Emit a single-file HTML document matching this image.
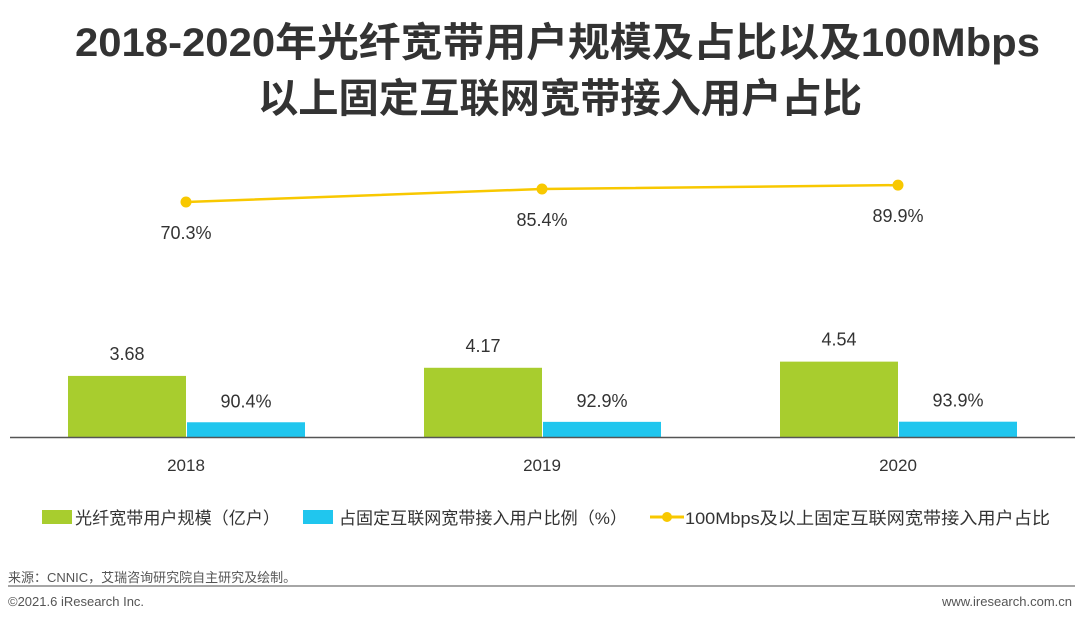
<!DOCTYPE html>
<html><head><meta charset="utf-8"><style>
body{margin:0;width:1080px;height:620px;background:#fff;overflow:hidden;font-family:"Liberation Sans","Noto Sans CJK SC",sans-serif}
</style></head><body>
<svg width="1080" height="620" font-family="Liberation Sans, Noto Sans CJK SC, sans-serif">
<text x="75" y="56" textLength="965" lengthAdjust="spacingAndGlyphs" font-size="40" font-weight="bold" fill="#333">2018-2020年光纤宽带用户规模及占比以及100Mbps</text>
<text x="258" y="112" textLength="604" lengthAdjust="spacingAndGlyphs" font-size="40" font-weight="bold" fill="#333">以上固定互联网宽带接入用户占比</text>
<g id="plot"></g>
<line x1="10" y1="437.5" x2="1075" y2="437.5" stroke="#555" stroke-width="1.5"/>
<g font-size="17" fill="#333">
<rect x="42" y="510" width="30" height="14" fill="#a8cd2e"/>
<text x="75" y="524" textLength="205" lengthAdjust="spacingAndGlyphs">光纤宽带用户规模（亿户）</text>
<rect x="303" y="510" width="30" height="14" fill="#20c6ee"/>
<text x="339" y="524" textLength="288" lengthAdjust="spacingAndGlyphs">占固定互联网宽带接入用户比例（%）</text>
<line x1="650" y1="517" x2="684" y2="517" stroke="#f8c800" stroke-width="3"/>
<circle cx="667" cy="517" r="5" fill="#f8c800"/>
<text x="685" y="524" textLength="365" lengthAdjust="spacingAndGlyphs">100Mbps及以上固定互联网宽带接入用户占比</text>
</g>
<text x="8" y="582" font-size="13" fill="#555">来源：CNNIC，艾瑞咨询研究院自主研究及绘制。</text>
<line x1="8" y1="586" x2="1075" y2="586" stroke="#888" stroke-width="1.5"/>
<text x="8" y="606" font-size="13" fill="#555">©2021.6 iResearch Inc.</text>
<text x="1072" y="606" text-anchor="end" font-size="13" fill="#555">www.iresearch.com.cn</text>
</svg>
<script>
const categories=["2018","2019","2020"];
const fiberUsers=[3.68,4.17,4.54];
const fiberShare=[90.4,92.9,93.9];
const highSpeedShare=[70.3,85.4,89.9];
const fiberLabels=["3.68","4.17","4.54"];
const shareLabels=["90.4%","92.9%","93.9%"];
const hsLabels=["70.3%","85.4%","89.9%"];
const NS="http://www.w3.org/2000/svg";
const g=document.getElementById("plot");
const base=437;
const xC=i=>186+i*356;
const yBar=v=>v*16.6;
const yShare=v=>v*0.163;
const yLine=v=>262.5-v*0.861;
function mk(t,a){const e=document.createElementNS(NS,t);for(const k in a)e.setAttribute(k,a[k]);g.appendChild(e);return e;}
categories.forEach((c,i)=>{
 const x=xC(i);
 let h=yBar(fiberUsers[i]);
 let r=mk("rect",{x:x-118,y:base-h,width:118,height:h,fill:"#a8cd2e"});
 
 
 let t=mk("text",{x:x-59,y:base-h-16,"text-anchor":"middle","font-size":18,fill:"#333"});t.textContent=fiberLabels[i];
 
 
 let h2=yShare(fiberShare[i]);
 let r2=mk("rect",{x:x+1,y:base-h2,width:118,height:h2,fill:"#20c6ee"});
 
 
 let t2=mk("text",{x:x+60,y:base-h2-15,"text-anchor":"middle","font-size":18,fill:"#333"});t2.textContent=shareLabels[i];
 
 
 let tc=mk("text",{x:x,y:471,"text-anchor":"middle","font-size":17,fill:"#333"});tc.textContent=c;
 
 
});
const pts=highSpeedShare.map((v,i)=>xC(i)+","+yLine(v)).join(" ");
const pl=mk("polyline",{points:pts,fill:"none",stroke:"#f8c800","stroke-width":2.5});


highSpeedShare.forEach((v,i)=>{
 const c=mk("circle",{cx:xC(i),cy:yLine(v),r:5.5,fill:"#f8c800"});
 
 
 const t=mk("text",{x:xC(i),y:yLine(v)+37,"text-anchor":"middle","font-size":18,fill:"#333"});t.textContent=hsLabels[i];
 
 
});
</script>
</body></html>
